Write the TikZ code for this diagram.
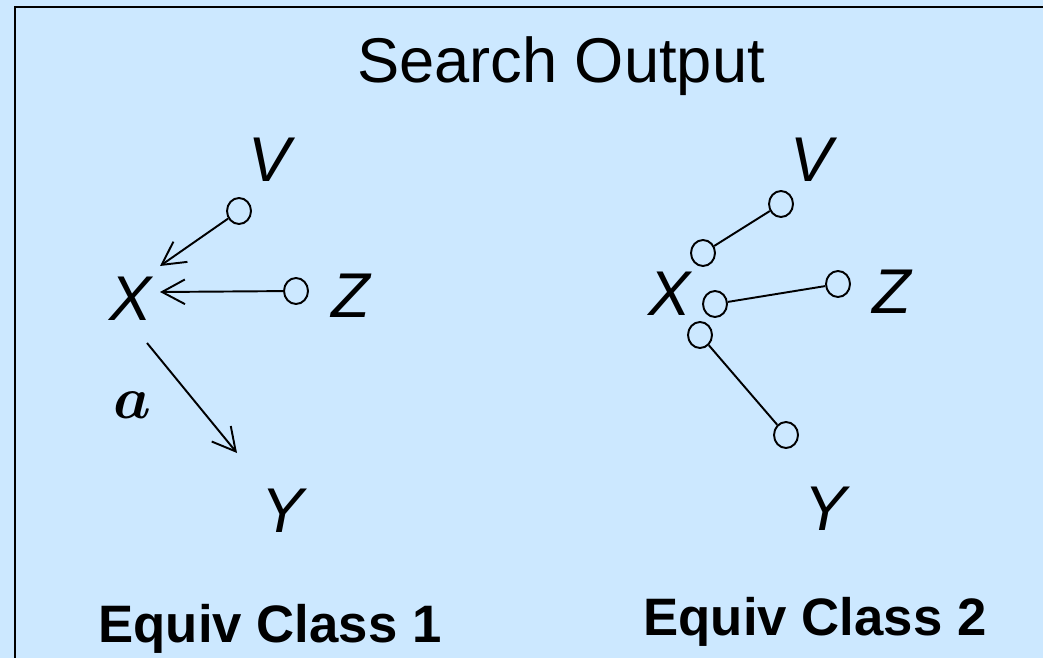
\documentclass[tikz,border=0pt]{standalone}
\usepackage{amsmath}
\usepackage{fontspec}
\setmainfont{Liberation Sans}
\usetikzlibrary{shapes.geometric,arrows.meta}
\definecolor{slidebg}{HTML}{CCE8FF}

\begin{document}
\begin{tikzpicture}[x=0.02cm, y=-0.02cm,
  every node/.style={inner sep=0pt},
  var/.style={anchor=base, font=\fontsize{36}{40}\selectfont\itshape},
  endpt/.style={draw, ellipse, line width=1.1pt, minimum width=0.48cm, minimum height=0.52cm},
  edge/.style={line width=1.1pt},
  arr/.style={edge, -{Straight Barb[length=13pt,width=14pt]}}]

% --- slide background and frame ---
\fill[slidebg] (0,0) rectangle (1043,658);
\useasboundingbox (0,0) rectangle (1043,658);
\draw[line width=1.4pt] (15,658) -- (15,7) -- (1043,7);

\node[anchor=base, font=\fontsize{36}{40}\selectfont] (title) at (561,83) {Search Output};

% --- Equiv Class 1 ---
\node[var] (vL) at (270,182) {V};
\node[var] (xL) at (131,320) {X};
\node[var] (zL) at (351,317) {Z};
\node[var] (yL) at (283,532) {Y};
\node[endpt] (cvL) at (239,211) {};
\node[endpt] (czL) at (296,291) {};
\coordinate (tvL) at (160,266);
\coordinate (tzL) at (160,292);
\coordinate (sxL) at (147,343);
\coordinate (tyL) at (237,453);
\draw[arr] (cvL) -- (tvL);
\draw[arr] (czL) -- (tzL);
\draw[arr] (sxL) -- (tyL);
\node[scale=3.4] (aL) at (132,405) {$\boldsymbol{a}$};
\node[anchor=base, font=\fontsize{30}{36}\selectfont\bfseries] (eq1) at (270,642) {Equiv Class 1};

% --- Equiv Class 2 ---
\node[var] (vR) at (812,182) {V};
\node[var] (xR) at (670,315) {X};
\node[var] (zR) at (892,313) {Z};
\node[var] (yR) at (826,530) {Y};
\node[endpt] (c1R) at (703,253) {};
\node[endpt] (cvR) at (781,204) {};
\node[endpt] (c2R) at (715,304) {};
\node[endpt] (czR) at (838,284) {};
\node[endpt] (c3R) at (700,335) {};
\node[endpt] (cyR) at (786,435) {};
\draw[edge] (c1R) -- (cvR);
\draw[edge] (c2R) -- (czR);
\draw[edge] (c3R) -- (cyR);
\node[anchor=base, font=\fontsize{30}{36}\selectfont\bfseries] (eq2) at (815,635) {Equiv Class 2};

\end{tikzpicture}
\end{document}
